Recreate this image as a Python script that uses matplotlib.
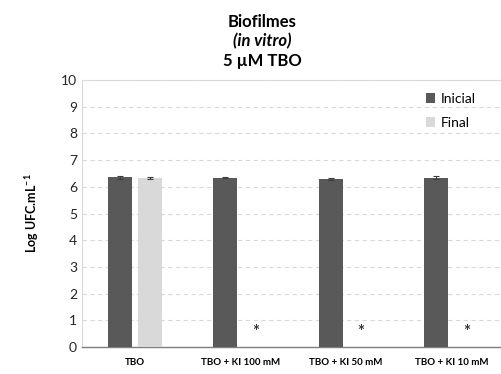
import numpy as np
import matplotlib
matplotlib.use('Agg')
from matplotlib import pyplot as plt

plt.rcParams['font.family'] = ['Lato', 'DejaVu Sans']
plt.rcParams['mathtext.fontset'] = 'custom'
plt.rcParams['mathtext.bf'] = 'Lato:bold'
plt.rcParams['mathtext.rm'] = 'Lato'
plt.rcParams['mathtext.default'] = 'bf'

groups = ['TBO', 'TBO + KI 100 mM', 'TBO + KI 50 mM', 'TBO + KI 10 mM']
inicial = [6.36, 6.35, 6.30, 6.34]
inicial_err = [0.05, 0.03, 0.03, 0.05]
final = [6.33, 0, 0, 0]
final_err = [0.03, 0, 0, 0]
star_at = [False, True, True, True]

dark = '#595959'
light = '#d9d9d9'

fig = plt.figure(figsize=(5.02, 3.74), dpi=100)
ax = fig.add_axes([0.163, 0.072, 0.835, 0.714])

x = np.arange(len(groups))
w = 0.227
off = 0.143
ax.bar(x - off, inicial, w, color=dark, label='Inicial', zorder=3,
       yerr=inicial_err, error_kw=dict(ecolor='#404040', elinewidth=0.8, capsize=2, capthick=0.8))
ax.bar(x[:1] + off, final[:1], w, color=light, label='Final', zorder=3,
       yerr=final_err[:1], error_kw=dict(ecolor='#404040', elinewidth=0.8, capsize=2, capthick=0.8))
for i in range(len(groups)):
    if star_at[i]:
        ax.text(x[i] + off, 0.55, '*', ha='center', va='center', fontsize=12, fontweight='bold', color='#333333')

ax.set_xlim(-0.5, 3.47)
ax.set_ylim(0, 10)
ax.set_yticks(range(0, 11))
ax.yaxis.grid(True, linestyle=(0, (4, 3)), color='#d9d9d9', linewidth=0.8, zorder=0)
ax.set_xticks(x)
ax.set_xticklabels(groups, fontsize=7, fontweight='bold')
ax.tick_params(axis='both', length=0, labelsize=10, colors='#262626')
ax.tick_params(axis='x', labelsize=7, pad=8, colors='black')
for s in ['left', 'top']:
    ax.spines[s].set_color('#d9d9d9')
    ax.spines[s].set_linewidth(0.8)
ax.spines['right'].set_visible(False)
ax.spines['bottom'].set_color('#7f7f7f')
ax.spines['bottom'].set_linewidth(1.0)

ax.set_ylabel('Log UFC.mL$^{-1}$', fontsize=9, fontweight='bold', labelpad=14)

leg = ax.legend(loc='upper right', bbox_to_anchor=(0.97, 1.0), frameon=False, fontsize=10,
                handlelength=0.7, handleheight=0.7, labelspacing=0.9, handletextpad=0.4)

fig.text(0.522, 0.942, 'Biofilmes', ha='center', va='center', fontsize=12, fontweight='bold')
fig.text(0.522, 0.889, '(in vitro)', ha='center', va='center', fontsize=12, fontweight='bold', fontstyle='italic')
fig.text(0.522, 0.836, '5 µM TBO', ha='center', va='center', fontsize=12, fontweight='bold')

plt.savefig('out.png', dpi=100)
